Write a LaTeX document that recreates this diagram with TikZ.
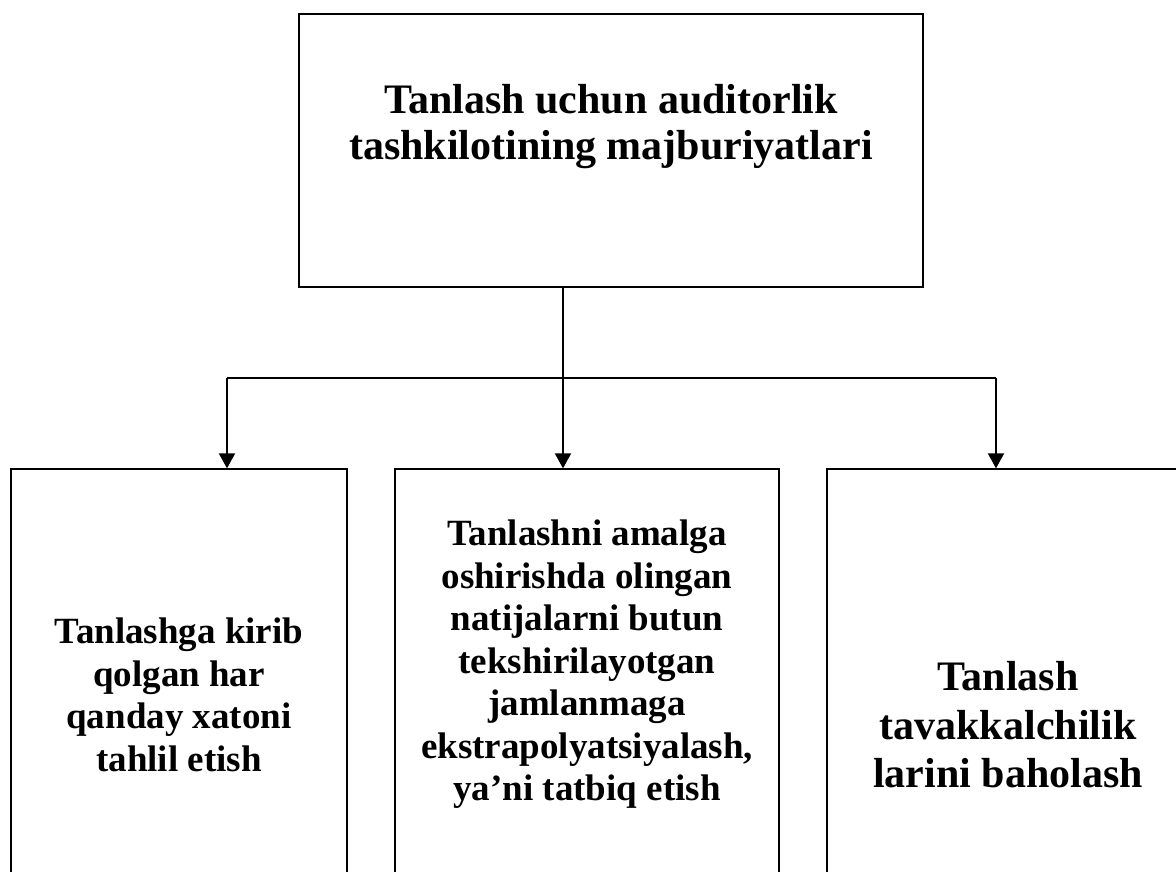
\documentclass[tikz,border=0pt]{standalone}
\usepackage{fontspec}
\setmainfont{Liberation Serif}
\usetikzlibrary{arrows.meta}
\begin{document}
\begin{tikzpicture}[x=1pt,y=-1pt,
  boxstyle/.style={draw, line width=1.3pt, rectangle, inner sep=0pt},
  txt/.style={inner sep=0pt, align=center, anchor=north},
  link/.style={line width=1.3pt},
  arr/.style={line width=2pt, -{Triangle[width=16pt,length=15pt]}}]
\useasboundingbox (0,0) rectangle (1176,872);
\clip (0,0) rectangle (1176,872);
\node[boxstyle, minimum width=624pt, minimum height=273pt] (top) at (611,150.5) {};
\node[boxstyle, minimum width=336pt, minimum height=451pt] (left) at (179,694.5) {};
\node[boxstyle, minimum width=384pt, minimum height=451pt] (mid) at (587,694.5) {};
\node[boxstyle, minimum width=363pt, minimum height=451pt] (right) at (1008.5,694.5) {};
\coordinate (jl) at (227,378);
\coordinate (jm) at (563,378);
\coordinate (jr) at (996,378);
\draw[link] (top.south -| jm) -- (jm);
\draw[link] (jl) -- (jr);
\draw[arr] (jl) -- (jl |- left.north);
\draw[arr] (jm) -- (jm |- mid.north);
\draw[arr] (jr) -- (jr |- right.north);
\node[txt, font=\bfseries\fontsize{42}{46}\selectfont] (toptext) at (611,84.6)
  {Tanlash uchun auditorlik\\tashkilotining majburiyatlari};
\node[txt, font=\bfseries\fontsize{37}{42.5}\selectfont] (lefttext) at (179,618)
  {Tanlashga kirib\\qolgan har\\qanday xatoni\\tahlil etish};
\node[txt, font=\bfseries\fontsize{37}{42.5}\selectfont] (midtext) at (587,520)
  {Tanlashni amalga\\oshirishda olingan\\natijalarni butun\\tekshirilayotgan\\jamlanmaga\\ekstrapolyatsiyalash,\\ya’ni tatbiq etish};
\node[txt, font=\bfseries\fontsize{42}{48.5}\selectfont] (righttext) at (1008,661.6)
  {Tanlash\\tavakkalchilik\\larini baholash};
\end{tikzpicture}
\end{document}
